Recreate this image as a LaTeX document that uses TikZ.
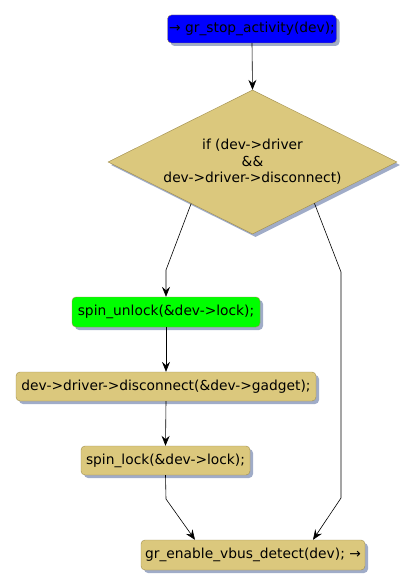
\documentclass[tikz,border=0pt]{standalone}
\usepackage{fontspec}
\setmainfont{DejaVu Sans}
\definecolor{actblue}{RGB}{0,0,255}
\definecolor{actgreen}{RGB}{0,255,0}
\definecolor{acttan}{RGB}{219,200,125}
\definecolor{actborder}{RGB}{160,142,78}
\definecolor{actshadow}{RGB}{160,172,200}
\usetikzlibrary{arrows.meta,positioning,shapes.geometric,calc,shadows}
\tikzset{
  actbox/.style={draw=actborder,fill=acttan,rounded corners=4pt,
        inner sep=0pt,minimum height=30pt,font=\fontsize{13.8}{16.5}\selectfont,
        drop shadow={shadow xshift=3pt,shadow yshift=-3pt,fill=actshadow,opacity=1}},
  actflow/.style={-{Stealth[length=10pt,width=8pt,inset=3.5pt]},black,semithick}
}

\begin{document}
\begin{tikzpicture}[x=1pt,y=-1pt]
  \useasboundingbox (0,0) rectangle (416,588);
  % Start: stop activity
  \node[actbox,fill=actblue,minimum width=169pt,minimum height=28pt]
        (stop) at (252,29) {→ gr\_stop\_activity(dev);};
  % Decision
  \node[actbox,shape=diamond,shape aspect=2,rounded corners=0pt,
        minimum width=289pt,minimum height=144pt,align=center]
        (check) at (252.5,162) {if (dev->driver\\\&\&\\dev->driver->disconnect)};
  % Unlock
  \node[actbox,fill=actgreen,minimum width=188pt]
        (unlock) at (166,312) {spin\_unlock(\&dev->lock);};
  % Disconnect call
  \node[actbox,minimum width=300pt,minimum height=29pt]
        (disc) at (166,386.5) {dev->driver->disconnect(\&dev->gadget);};
  % Lock again
  \node[actbox,minimum width=169pt,minimum height=29pt]
        (lock) at (165.5,460.5) {spin\_lock(\&dev->lock);};
  % End: enable vbus detect
  \node[actbox,minimum width=224pt]
        (vbus) at (253,555) {gr\_enable\_vbus\_detect(dev); →};

  % Bend points
  \coordinate (yesout) at ($(check.west)!0.576!(check.south)$);
  \coordinate (noout) at ($(check.south)!0.428!(check.east)$);
  \coordinate (yesbend) at (166,270);
  \coordinate (nobend) at (341,272);
  \coordinate (nolow) at (341,498);
  \coordinate (lockbend) at (166,499);

  % Flows
  \draw[actflow] (stop.south) -- (check.north);
  \draw[actflow] (yesout) -- (yesbend) -- (unlock.north);
  \draw[actflow] (unlock.south) -- (disc.north);
  \draw[actflow] (disc.south) -- (lock.north);
  \draw[actflow] (lock.south) -- (lockbend) -- ([xshift=-58pt]vbus.north);
  \draw[actflow] (noout) -- (nobend) -- (nolow) -- ([xshift=60pt]vbus.north);
\end{tikzpicture}
\end{document}
